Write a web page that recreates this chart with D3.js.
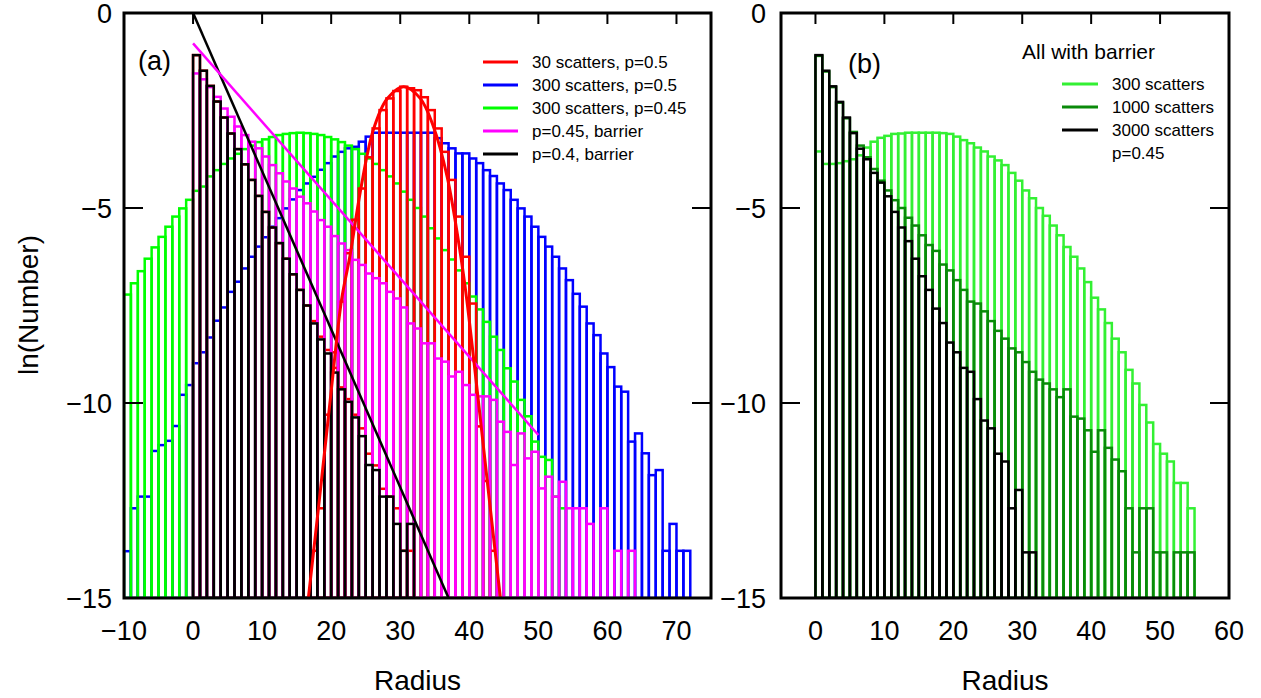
<!DOCTYPE html>
<html>
<head>
<meta charset="utf-8">
<script src="https://cdn.jsdelivr.net/npm/d3@7"></script>
<style>
  body { margin: 0; background: #fff; }
  text { font-family: "Liberation Sans", Arial, sans-serif; fill: #000; }
</style>
</head>
<body>
<svg id="chart" width="1261" height="698"></svg>
<script>
// ln(Number) per radius bin, bins are 1 wide, first bin given by *Start
const blueStart = -10
const blueA = [
  -13.8, -12.7, -12.4, -12.4, -11.23, -11.08, -10.97, -10.59, -9.79, -9.54,
  -8.98, -8.7, -8.32, -7.89, -7.55, -7.15, -6.89, -6.55, -6.25, -5.99,
  -5.75, -5.48, -5.26, -5.01, -4.78, -4.54, -4.37, -4.2, -4.02, -3.85,
  -3.68, -3.56, -3.47, -3.43, -3.3, -3.17, -3.07, -3.07, -3.07, -3.07,
  -3.07, -3.07, -3.07, -3.07, -3.07, -3.21, -3.34, -3.47, -3.6, -3.6,
  -3.73, -3.85, -4.03, -4.18, -4.37, -4.54, -4.79, -5.01, -5.22, -5.48,
  -5.74, -5.99, -6.25, -6.55, -6.85, -7.2, -7.53, -7.96, -8.26, -8.73,
  -9.08, -9.58, -9.71, -10.99, -10.78, -11.29, -11.85, -11.72, -13.79, -13.1,
  -13.79, -13.79
]
const greenStart = -10
const greenA = [
  -7.22, -6.93, -6.62, -6.3, -6.01, -5.74, -5.48, -5.22, -5.01, -4.79,
  -4.56, -4.45, -4.19, -4.03, -3.87, -3.73, -3.61, -3.49, -3.4, -3.31,
  -3.24, -3.18, -3.13, -3.1, -3.08, -3.07, -3.08, -3.1, -3.13, -3.18,
  -3.24, -3.31, -3.4, -3.49, -3.61, -3.73, -3.87, -4.03, -4.19, -4.37,
  -4.58, -4.79, -5.0, -5.22, -5.52, -5.78, -6.08, -6.32, -6.6, -6.93,
  -7.27, -7.6, -7.92, -8.3, -8.64, -9.11, -9.45, -9.92, -10.34, -10.99,
  -11.38, -11.46, -12.4, -12.7
]
const redLowStart = 0
const redLowA = [
  -1.08, -1.48, -1.87, -2.27, -2.68, -3.09, -3.49, -3.88, -4.28, -4.69,
  -5.1, -5.5, -5.9, -6.3, -6.7, -7.1, -7.5, -7.9, -8.3, -8.64,
  -9.1, -9.6, -9.9, -10.3, -10.65, -11.3, -11.6, -12.2, -12.4, -12.7,
  -13.79, -13.79
]
const redStart = 17
const redA = [
  -13.79, -12.7, -10.3, -8.7, -7.4, -6.16, -5.3, -4.5, -3.7, -2.96,
  -2.49, -2.19, -2.0, -1.89, -1.93, -1.98, -2.16, -2.49, -2.96, -3.56,
  -4.28, -5.22, -6.25, -7.45, -10.6, -12.0, -13.79
]
const magentaStart = 0
const magentaA = [
  -1.55, -1.7, -1.9, -2.15, -2.45, -2.66, -2.91, -3.13, -3.3, -3.47,
  -3.68, -3.9, -4.11, -4.32, -4.5, -4.71, -4.88, -5.09, -5.31, -5.48,
  -5.72, -5.91, -6.08, -6.33, -6.46, -6.68, -6.8, -6.93, -7.15, -7.32,
  -7.55, -7.96, -8.09, -8.47, -8.47, -8.86, -8.94, -9.32, -9.2, -9.54,
  -9.79, -9.83, -9.83, -9.92, -10.48, -10.74, -11.59, -10.78, -11.42, -11.25,
  -12.19, -11.89, -12.4, -12.02, -12.7, -12.7, -12.7, -13.1, null, -12.7,
  null, -13.79, null, -13.79
]
const blackStart = 0
const blackA = [
  -1.08, -1.48, -1.87, -2.27, -2.68, -3.09, -3.49, -3.88, -4.28, -4.69,
  -5.1, -5.5, -5.9, -6.3, -6.7, -7.1, -7.5, -7.96, -8.37, -8.73,
  -9.22, -9.65, -9.97, -10.37, -10.85, -11.59, -11.72, -12.4, -12.4, -13.1,
  -13.79, -13.1
]
// fitted lines, [radius, ln(Number)]
const blackFit = [[0, 0], [37, -15]]
const magentaFit = [[0, -0.78], [50, -10.82]]
const redFit = [
  [16.7, -15], [18.4, -12.3], [20, -9.7], [21.5, -7.36], [22.75, -6.2],
  [24.2, -4.6], [26.1, -3.0], [28.1, -2.2], [30.5, -1.89], [32.9, -2.19],
  [34.8, -2.91], [36.8, -4.2], [38.7, -6.16], [39.6, -7.3], [41.6, -10.4],
  [42.6, -12.0], [44.5, -15]
]

// panel (b)
const lightStart = 0
const lightB = [
  -3.55, -3.87, -3.87, -3.85, -3.8, -3.75, -3.65, -3.45, -3.3, -3.2,
  -3.15, -3.1, -3.09, -3.07, -3.07, -3.07, -3.07, -3.07, -3.08, -3.1,
  -3.17, -3.26, -3.34, -3.45, -3.55, -3.68, -3.78, -3.9, -4.1, -4.3,
  -4.55, -4.75, -5.0, -5.2, -5.45, -5.7, -6.0, -6.25, -6.55, -6.9,
  -7.3, -7.6, -7.95, -8.35, -8.7, -9.15, -9.5, -10.05, -10.5, -11.05,
  -11.3, -11.5, -12.05, -12.05, -12.7
]
const darkStart = 0
const darkB = [
  -1.1, -1.5, -1.9, -2.3, -2.7, -3.05, -3.4, -3.7, -4.0, -4.3,
  -4.55, -4.8, -5.0, -5.25, -5.45, -5.7, -5.95, -6.1, -6.45, -6.6,
  -6.85, -7.1, -7.4, -7.45, -7.65, -7.9, -8.15, -8.35, -8.6, -8.7,
  -8.95, -9.2, -9.4, -9.5, -9.65, -9.85, -9.65, -10.35, -10.4, -10.7,
  -11.25, -10.7, -11.15, -11.45, -11.75, -12.7, -13.83, -12.7, -12.7, -13.83,
  -13.83, null, -13.83, -13.83, -13.83
]
const blackBStart = 0
const blackB = [
  -1.08, -1.48, -1.88, -2.28, -2.68, -3.08, -3.48, -3.75, -4.1, -4.35,
  -4.7, -5.1, -5.5, -5.85, -6.3, -6.75, -7.1, -7.58, -7.95, -8.45,
  -8.7, -9.1, -9.2, -9.9, -10.45, -10.65, -11.3, -11.5, -12.7, -12.23,
  -13.83, -13.83
]

const yTicks = [0, -5, -10, -15]
const xTicksA = [-10, 0, 10, 20, 30, 40, 50, 60, 70]
const xTicksB = [0, 10, 20, 30, 40, 50, 60]

const legendA = [
  ['30 scatters, p=0.5', '#ff0000'],
  ['300 scatters, p=0.5', '#0000ff'],
  ['300 scatters, p=0.45', '#00ff00'],
  ['p=0.45, barrier', '#ff00ff'],
  ['p=0.4, barrier', '#000000']
]
const legendB = [
  ['300 scatters', '#33f033'],
  ['1000 scatters', '#0a8a0a'],
  ['3000 scatters', '#000000']
]

const svg = d3.select('#chart')
const plotTop = 13, plotBottom = 598
const y = d3.scaleLinear().domain([-15, 0]).range([plotBottom, plotTop])
const xA = d3.scaleLinear().domain([-10, 75]).range([124, 711])
const xB = d3.scaleLinear().domain([-5, 60]).range([781, 1229])

function makePanel(id, x) {
  const [x0, x1] = x.range()
  svg.append('clipPath').attr('id', id)
    .append('rect').attr('x', x0).attr('y', plotTop).attr('width', x1 - x0).attr('height', plotBottom - plotTop)
  return svg.append('g').attr('clip-path', `url(#${id})`)
}

function hist(g, x, start, values, color) {
  const bins = values.map((v, i) => ({ x0: start + i, v })).filter(d => d.v !== null)
  g.append('g').selectAll('rect')
    .data(bins)
    .enter()
    .append('rect')
    .attr('x', d => x(d.x0))
    .attr('width', d => x(d.x0 + 1) - x(d.x0))
    .attr('y', d => y(d.v))
    .attr('height', d => y(-15) - y(d.v))
    .attr('fill', 'none')
    .attr('stroke', color)
    .attr('stroke-width', 2.5)
}

function fit(g, x, pts, color, w, curve) {
  const line = d3.line().x(d => x(d[0])).y(d => y(d[1])).curve(curve || d3.curveLinear)
  g.append('path').attr('d', line(pts)).attr('fill', 'none').attr('stroke', color).attr('stroke-width', w)
}

function frame(x, ticks, labelRight) {
  const [x0, x1] = x.range()
  svg.append('rect').attr('x', x0).attr('y', plotTop).attr('width', x1 - x0).attr('height', plotBottom - plotTop)
    .attr('fill', 'none').attr('stroke', '#000').attr('stroke-width', 3)
  // top ticks, inward
  svg.append('g').selectAll('line')
    .data(ticks.filter(t => x(t) > x0 + 2 && x(t) < x1 - 2))
    .enter().append('line')
    .attr('x1', d => x(d)).attr('x2', d => x(d))
    .attr('y1', plotTop).attr('y2', plotTop + 11)
    .attr('stroke', '#000').attr('stroke-width', 2)
  // left and right ticks, inward
  const inner = yTicks.filter(t => t > -15 && t < 0)
  svg.append('g').selectAll('line')
    .data(inner.flatMap(t => [[x0, x0 + 19, t], [x1 - 19, x1, t]]))
    .enter().append('line')
    .attr('x1', d => d[0]).attr('x2', d => d[1])
    .attr('y1', d => y(d[2])).attr('y2', d => y(d[2]))
    .attr('stroke', '#000').attr('stroke-width', 2)
  // tick labels
  svg.append('g').selectAll('text')
    .data(ticks)
    .enter().append('text')
    .attr('x', d => x(d)).attr('y', 640)
    .attr('text-anchor', 'middle')
    .style('font-size', '27px')
    .text(d => d < 0 ? '\u2212' + Math.abs(d) : d)
  svg.append('g').selectAll('text')
    .data(yTicks)
    .enter().append('text')
    .attr('x', labelRight).attr('y', d => y(d) + 10)
    .attr('text-anchor', 'end')
    .style('font-size', '27px')
    .text(d => d < 0 ? '\u2212' + Math.abs(d) : d)
  svg.append('text')
    .attr('x', (x0 + x1) / 2).attr('y', 690)
    .attr('text-anchor', 'middle')
    .style('font-size', '28px')
    .text('Radius')
}

// panel (a)
const gA = makePanel('clipA', xA)
hist(gA, xA, blueStart, blueA, '#0000ff')
hist(gA, xA, greenStart, greenA, '#00ff00')
hist(gA, xA, redLowStart, redLowA, '#ff0000')
hist(gA, xA, redStart, redA, '#ff0000')
hist(gA, xA, magentaStart, magentaA, '#ff00ff')
hist(gA, xA, blackStart, blackA, '#000000')
fit(gA, xA, blackFit, '#000000', 2.5)
fit(gA, xA, magentaFit, '#ff00ff', 2.5)
fit(gA, xA, redFit, '#ff0000', 3, d3.curveCatmullRom)
frame(xA, xTicksA, 112)

// panel (b)
const gB = makePanel('clipB', xB)
hist(gB, xB, lightStart, lightB, '#33f033')
hist(gB, xB, darkStart, darkB, '#0a8a0a')
hist(gB, xB, blackBStart, blackB, '#000000')
frame(xB, xTicksB, 766)

svg.append('text')
  .attr('transform', 'translate(38,305) rotate(-90)')
  .attr('text-anchor', 'middle')
  .style('font-size', '28px')
  .text('ln(Number)')

svg.append('text').attr('x', 138).attr('y', 70).style('font-size', '27px').text('(a)')
svg.append('text').attr('x', 848).attr('y', 73).style('font-size', '27px').text('(b)')

// legends
const legA = svg.append('g')
legA.selectAll('line').data(legendA).enter().append('line')
  .attr('x1', 483).attr('x2', 518)
  .attr('y1', (d, i) => 62 + i * 23).attr('y2', (d, i) => 62 + i * 23)
  .attr('stroke', d => d[1]).attr('stroke-width', 3)
legA.selectAll('text').data(legendA).enter().append('text')
  .attr('x', 532).attr('y', (d, i) => 68 + i * 23)
  .style('font-size', '17px')
  .text(d => d[0])

svg.append('text').attr('x', 1022).attr('y', 59).style('font-size', '21px').text('All with barrier')
const legB = svg.append('g')
legB.selectAll('line').data(legendB).enter().append('line')
  .attr('x1', 1062).attr('x2', 1098)
  .attr('y1', (d, i) => 84 + i * 23).attr('y2', (d, i) => 84 + i * 23)
  .attr('stroke', d => d[1]).attr('stroke-width', 3)
legB.selectAll('text').data(legendB).enter().append('text')
  .attr('x', 1112).attr('y', (d, i) => 90 + i * 23)
  .style('font-size', '17px')
  .text(d => d[0])
svg.append('text').attr('x', 1112).attr('y', 159).style('font-size', '17px').text('p=0.45')
</script>
</body>
</html>
